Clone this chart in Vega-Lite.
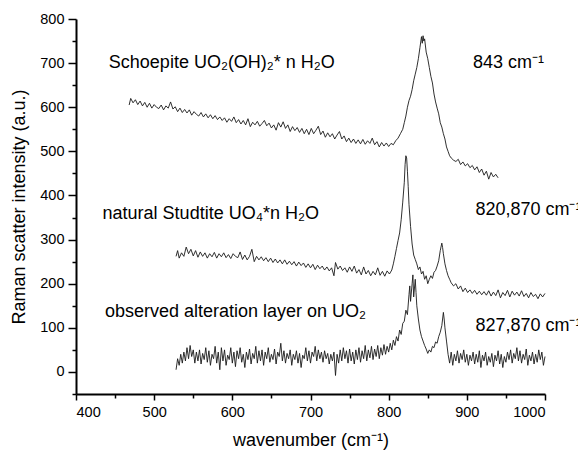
{
  "$schema": "https://vega.github.io/schema/vega-lite/v6.json",
  "width": 469,
  "height": 375,
  "autosize": "none",
  "padding": {"left": 76, "top": 19, "right": 33, "bottom": 62},
  "background": "white",
  "config": {
    "view": {"stroke": null},
    "font": "Liberation Sans",
    "axis": {
      "domainColor": "black", "domainWidth": 2, "tickColor": "black", "tickWidth": 1.5,
      "labelColor": "black", "labelFont": "Liberation Sans", "labelFontSize": 14.5,
      "titleColor": "black", "titleFont": "Liberation Sans", "titleFontSize": 18, "titleFontWeight": "normal",
      "grid": false, "labelOverlap": false, "format": "d"
    }
  },
  "resolve": {"axis": {"x": "independent", "y": "independent"}},
  "datasets": {
    "spec": [
      {"s":"A","x":468,"y":605},{"s":"A","x":470,"y":620},{"s":"A","x":473,"y":610},{"s":"A","x":476,"y":617},{"s":"A","x":479,"y":606},{"s":"A","x":482,"y":614},{"s":"A","x":485,"y":603},{"s":"A","x":488,"y":611},{"s":"A","x":491,"y":600},{"s":"A","x":494,"y":609},{"s":"A","x":497,"y":598},{"s":"A","x":500,"y":606},{"s":"A","x":503,"y":600},{"s":"A","x":506,"y":597},{"s":"A","x":509,"y":605},{"s":"A","x":512,"y":594},{"s":"A","x":515,"y":603},{"s":"A","x":518,"y":598},{"s":"A","x":521,"y":612},{"s":"A","x":524,"y":596},{"s":"A","x":527,"y":601},{"s":"A","x":530,"y":590},{"s":"A","x":533,"y":598},{"s":"A","x":536,"y":588},{"s":"A","x":539,"y":595},{"s":"A","x":542,"y":587},{"s":"A","x":545,"y":594},{"s":"A","x":548,"y":582},{"s":"A","x":551,"y":590},{"s":"A","x":554,"y":584},{"s":"A","x":557,"y":580},{"s":"A","x":560,"y":588},{"s":"A","x":563,"y":578},{"s":"A","x":566,"y":585},{"s":"A","x":569,"y":576},{"s":"A","x":572,"y":583},{"s":"A","x":575,"y":574},{"s":"A","x":578,"y":581},{"s":"A","x":581,"y":572},{"s":"A","x":584,"y":578},{"s":"A","x":587,"y":570},{"s":"A","x":590,"y":576},{"s":"A","x":593,"y":566},{"s":"A","x":596,"y":574},{"s":"A","x":599,"y":568},{"s":"A","x":602,"y":578},{"s":"A","x":605,"y":565},{"s":"A","x":608,"y":572},{"s":"A","x":611,"y":562},{"s":"A","x":614,"y":570},{"s":"A","x":617,"y":560},{"s":"A","x":620,"y":574},{"s":"A","x":623,"y":556},{"s":"A","x":626,"y":566},{"s":"A","x":629,"y":560},{"s":"A","x":632,"y":568},{"s":"A","x":635,"y":557},{"s":"A","x":638,"y":563},{"s":"A","x":641,"y":570},{"s":"A","x":644,"y":558},{"s":"A","x":647,"y":564},{"s":"A","x":650,"y":553},{"s":"A","x":653,"y":560},{"s":"A","x":656,"y":548},{"s":"A","x":659,"y":565},{"s":"A","x":662,"y":555},{"s":"A","x":665,"y":567},{"s":"A","x":668,"y":552},{"s":"A","x":671,"y":560},{"s":"A","x":674,"y":545},{"s":"A","x":677,"y":556},{"s":"A","x":680,"y":547},{"s":"A","x":683,"y":554},{"s":"A","x":686,"y":543},{"s":"A","x":689,"y":552},{"s":"A","x":692,"y":540},{"s":"A","x":695,"y":550},{"s":"A","x":698,"y":538},{"s":"A","x":701,"y":552},{"s":"A","x":704,"y":540},{"s":"A","x":707,"y":548},{"s":"A","x":710,"y":557},{"s":"A","x":713,"y":538},{"s":"A","x":716,"y":546},{"s":"A","x":719,"y":532},{"s":"A","x":722,"y":542},{"s":"A","x":725,"y":533},{"s":"A","x":728,"y":540},{"s":"A","x":731,"y":528},{"s":"A","x":734,"y":537},{"s":"A","x":737,"y":545},{"s":"A","x":740,"y":528},{"s":"A","x":743,"y":535},{"s":"A","x":746,"y":522},{"s":"A","x":749,"y":530},{"s":"A","x":752,"y":520},{"s":"A","x":755,"y":528},{"s":"A","x":758,"y":518},{"s":"A","x":761,"y":526},{"s":"A","x":764,"y":517},{"s":"A","x":767,"y":527},{"s":"A","x":770,"y":516},{"s":"A","x":773,"y":524},{"s":"A","x":776,"y":518},{"s":"A","x":779,"y":530},{"s":"A","x":782,"y":515},{"s":"A","x":785,"y":522},{"s":"A","x":788,"y":510},{"s":"A","x":791,"y":520},{"s":"A","x":794,"y":512},{"s":"A","x":797,"y":519},{"s":"A","x":800,"y":511},{"s":"A","x":803,"y":518},{"s":"A","x":806,"y":515},{"s":"A","x":809,"y":524},{"s":"A","x":812,"y":530},{"s":"A","x":815,"y":540},{"s":"A","x":818,"y":550},{"s":"A","x":820,"y":565},{"s":"A","x":822,"y":580},{"s":"A","x":824,"y":600},{"s":"A","x":826,"y":615},{"s":"A","x":828,"y":625},{"s":"A","x":830,"y":640},{"s":"A","x":832,"y":660},{"s":"A","x":834,"y":675},{"s":"A","x":836,"y":690},{"s":"A","x":838,"y":710},{"s":"A","x":840,"y":735},{"s":"A","x":842,"y":760},{"s":"A","x":843,"y":745},{"s":"A","x":844,"y":762},{"s":"A","x":845,"y":750},{"s":"A","x":846,"y":755},{"s":"A","x":848,"y":725},{"s":"A","x":850,"y":710},{"s":"A","x":852,"y":690},{"s":"A","x":854,"y":670},{"s":"A","x":856,"y":655},{"s":"A","x":858,"y":630},{"s":"A","x":860,"y":612},{"s":"A","x":862,"y":598},{"s":"A","x":864,"y":585},{"s":"A","x":866,"y":565},{"s":"A","x":868,"y":555},{"s":"A","x":870,"y":540},{"s":"A","x":872,"y":528},{"s":"A","x":874,"y":510},{"s":"A","x":876,"y":500},{"s":"A","x":878,"y":490},{"s":"A","x":880,"y":485},{"s":"A","x":883,"y":480},{"s":"A","x":886,"y":477},{"s":"A","x":889,"y":482},{"s":"A","x":892,"y":470},{"s":"A","x":895,"y":476},{"s":"A","x":898,"y":467},{"s":"A","x":901,"y":472},{"s":"A","x":904,"y":463},{"s":"A","x":907,"y":468},{"s":"A","x":910,"y":458},{"s":"A","x":913,"y":465},{"s":"A","x":916,"y":452},{"s":"A","x":919,"y":460},{"s":"A","x":922,"y":446},{"s":"A","x":925,"y":455},{"s":"A","x":928,"y":437},{"s":"A","x":931,"y":452},{"s":"A","x":934,"y":442},{"s":"A","x":937,"y":448},{"s":"A","x":940,"y":440},
      {"s":"B","x":528,"y":262},{"s":"B","x":530,"y":275},{"s":"B","x":532,"y":258},{"s":"B","x":535,"y":270},{"s":"B","x":538,"y":262},{"s":"B","x":541,"y":283},{"s":"B","x":544,"y":268},{"s":"B","x":547,"y":278},{"s":"B","x":550,"y":263},{"s":"B","x":553,"y":275},{"s":"B","x":556,"y":260},{"s":"B","x":559,"y":272},{"s":"B","x":562,"y":262},{"s":"B","x":565,"y":270},{"s":"B","x":568,"y":258},{"s":"B","x":571,"y":268},{"s":"B","x":574,"y":261},{"s":"B","x":577,"y":271},{"s":"B","x":580,"y":258},{"s":"B","x":583,"y":268},{"s":"B","x":586,"y":261},{"s":"B","x":589,"y":270},{"s":"B","x":592,"y":259},{"s":"B","x":595,"y":266},{"s":"B","x":598,"y":257},{"s":"B","x":601,"y":268},{"s":"B","x":604,"y":262},{"s":"B","x":607,"y":259},{"s":"B","x":610,"y":272},{"s":"B","x":613,"y":255},{"s":"B","x":616,"y":265},{"s":"B","x":619,"y":254},{"s":"B","x":622,"y":262},{"s":"B","x":625,"y":278},{"s":"B","x":628,"y":250},{"s":"B","x":631,"y":262},{"s":"B","x":634,"y":254},{"s":"B","x":637,"y":261},{"s":"B","x":640,"y":252},{"s":"B","x":643,"y":259},{"s":"B","x":646,"y":250},{"s":"B","x":649,"y":258},{"s":"B","x":652,"y":248},{"s":"B","x":655,"y":256},{"s":"B","x":658,"y":247},{"s":"B","x":661,"y":254},{"s":"B","x":664,"y":245},{"s":"B","x":667,"y":254},{"s":"B","x":670,"y":244},{"s":"B","x":673,"y":251},{"s":"B","x":676,"y":243},{"s":"B","x":679,"y":250},{"s":"B","x":682,"y":240},{"s":"B","x":685,"y":249},{"s":"B","x":688,"y":241},{"s":"B","x":691,"y":247},{"s":"B","x":694,"y":237},{"s":"B","x":697,"y":245},{"s":"B","x":700,"y":236},{"s":"B","x":703,"y":244},{"s":"B","x":706,"y":232},{"s":"B","x":709,"y":242},{"s":"B","x":712,"y":234},{"s":"B","x":715,"y":240},{"s":"B","x":718,"y":231},{"s":"B","x":721,"y":238},{"s":"B","x":724,"y":229},{"s":"B","x":727,"y":236},{"s":"B","x":730,"y":218},{"s":"B","x":732,"y":248},{"s":"B","x":735,"y":233},{"s":"B","x":738,"y":240},{"s":"B","x":741,"y":230},{"s":"B","x":744,"y":236},{"s":"B","x":747,"y":226},{"s":"B","x":750,"y":238},{"s":"B","x":753,"y":228},{"s":"B","x":756,"y":240},{"s":"B","x":759,"y":224},{"s":"B","x":762,"y":232},{"s":"B","x":765,"y":220},{"s":"B","x":768,"y":238},{"s":"B","x":771,"y":222},{"s":"B","x":774,"y":230},{"s":"B","x":777,"y":218},{"s":"B","x":780,"y":228},{"s":"B","x":783,"y":220},{"s":"B","x":786,"y":236},{"s":"B","x":789,"y":219},{"s":"B","x":792,"y":228},{"s":"B","x":795,"y":217},{"s":"B","x":798,"y":229},{"s":"B","x":801,"y":222},{"s":"B","x":804,"y":231},{"s":"B","x":806,"y":245},{"s":"B","x":808,"y":262},{"s":"B","x":810,"y":280},{"s":"B","x":812,"y":298},{"s":"B","x":814,"y":315},{"s":"B","x":816,"y":345},{"s":"B","x":818,"y":385},{"s":"B","x":820,"y":430},{"s":"B","x":821,"y":470},{"s":"B","x":822,"y":490},{"s":"B","x":823,"y":485},{"s":"B","x":824,"y":455},{"s":"B","x":825,"y":420},{"s":"B","x":826,"y":380},{"s":"B","x":828,"y":330},{"s":"B","x":830,"y":290},{"s":"B","x":832,"y":265},{"s":"B","x":834,"y":255},{"s":"B","x":836,"y":245},{"s":"B","x":838,"y":232},{"s":"B","x":840,"y":238},{"s":"B","x":842,"y":222},{"s":"B","x":844,"y":228},{"s":"B","x":846,"y":210},{"s":"B","x":848,"y":218},{"s":"B","x":850,"y":200},{"s":"B","x":852,"y":210},{"s":"B","x":854,"y":218},{"s":"B","x":856,"y":212},{"s":"B","x":858,"y":226},{"s":"B","x":860,"y":230},{"s":"B","x":862,"y":240},{"s":"B","x":864,"y":252},{"s":"B","x":866,"y":275},{"s":"B","x":868,"y":292},{"s":"B","x":869,"y":282},{"s":"B","x":870,"y":268},{"s":"B","x":872,"y":245},{"s":"B","x":874,"y":230},{"s":"B","x":876,"y":218},{"s":"B","x":878,"y":210},{"s":"B","x":880,"y":202},{"s":"B","x":883,"y":195},{"s":"B","x":886,"y":200},{"s":"B","x":889,"y":188},{"s":"B","x":892,"y":195},{"s":"B","x":895,"y":182},{"s":"B","x":898,"y":190},{"s":"B","x":901,"y":180},{"s":"B","x":904,"y":186},{"s":"B","x":907,"y":178},{"s":"B","x":910,"y":185},{"s":"B","x":913,"y":176},{"s":"B","x":916,"y":183},{"s":"B","x":919,"y":175},{"s":"B","x":922,"y":182},{"s":"B","x":925,"y":174},{"s":"B","x":928,"y":184},{"s":"B","x":931,"y":172},{"s":"B","x":934,"y":181},{"s":"B","x":937,"y":173},{"s":"B","x":940,"y":186},{"s":"B","x":943,"y":168},{"s":"B","x":946,"y":180},{"s":"B","x":949,"y":173},{"s":"B","x":952,"y":185},{"s":"B","x":955,"y":170},{"s":"B","x":958,"y":183},{"s":"B","x":961,"y":174},{"s":"B","x":964,"y":181},{"s":"B","x":967,"y":172},{"s":"B","x":970,"y":184},{"s":"B","x":973,"y":171},{"s":"B","x":976,"y":178},{"s":"B","x":979,"y":168},{"s":"B","x":982,"y":180},{"s":"B","x":985,"y":171},{"s":"B","x":988,"y":176},{"s":"B","x":991,"y":166},{"s":"B","x":994,"y":177},{"s":"B","x":997,"y":170},{"s":"B","x":1000,"y":178},
      {"s":"C","x":528,"y":5},{"s":"C","x":530,"y":30},{"s":"C","x":532,"y":15},{"s":"C","x":534,"y":40},{"s":"C","x":536,"y":20},{"s":"C","x":538,"y":45},{"s":"C","x":540,"y":25},{"s":"C","x":542,"y":55},{"s":"C","x":544,"y":30},{"s":"C","x":546,"y":60},{"s":"C","x":548,"y":35},{"s":"C","x":550,"y":50},{"s":"C","x":552,"y":20},{"s":"C","x":554,"y":45},{"s":"C","x":556,"y":25},{"s":"C","x":558,"y":50},{"s":"C","x":560,"y":18},{"s":"C","x":562,"y":42},{"s":"C","x":564,"y":28},{"s":"C","x":566,"y":55},{"s":"C","x":568,"y":22},{"s":"C","x":570,"y":48},{"s":"C","x":572,"y":15},{"s":"C","x":574,"y":40},{"s":"C","x":576,"y":30},{"s":"C","x":578,"y":58},{"s":"C","x":580,"y":20},{"s":"C","x":582,"y":45},{"s":"C","x":584,"y":5},{"s":"C","x":586,"y":55},{"s":"C","x":588,"y":25},{"s":"C","x":590,"y":50},{"s":"C","x":592,"y":15},{"s":"C","x":594,"y":38},{"s":"C","x":596,"y":28},{"s":"C","x":598,"y":55},{"s":"C","x":600,"y":20},{"s":"C","x":602,"y":45},{"s":"C","x":604,"y":12},{"s":"C","x":606,"y":48},{"s":"C","x":608,"y":30},{"s":"C","x":610,"y":55},{"s":"C","x":612,"y":22},{"s":"C","x":614,"y":40},{"s":"C","x":616,"y":10},{"s":"C","x":618,"y":45},{"s":"C","x":620,"y":28},{"s":"C","x":622,"y":52},{"s":"C","x":624,"y":18},{"s":"C","x":626,"y":42},{"s":"C","x":628,"y":30},{"s":"C","x":630,"y":58},{"s":"C","x":632,"y":20},{"s":"C","x":634,"y":48},{"s":"C","x":636,"y":25},{"s":"C","x":638,"y":50},{"s":"C","x":640,"y":15},{"s":"C","x":642,"y":45},{"s":"C","x":644,"y":30},{"s":"C","x":646,"y":55},{"s":"C","x":648,"y":22},{"s":"C","x":650,"y":40},{"s":"C","x":652,"y":28},{"s":"C","x":654,"y":52},{"s":"C","x":656,"y":18},{"s":"C","x":658,"y":45},{"s":"C","x":660,"y":35},{"s":"C","x":662,"y":65},{"s":"C","x":664,"y":25},{"s":"C","x":666,"y":48},{"s":"C","x":668,"y":20},{"s":"C","x":670,"y":42},{"s":"C","x":672,"y":30},{"s":"C","x":674,"y":50},{"s":"C","x":676,"y":15},{"s":"C","x":678,"y":40},{"s":"C","x":680,"y":28},{"s":"C","x":682,"y":48},{"s":"C","x":684,"y":20},{"s":"C","x":686,"y":42},{"s":"C","x":688,"y":10},{"s":"C","x":690,"y":38},{"s":"C","x":692,"y":30},{"s":"C","x":694,"y":55},{"s":"C","x":696,"y":25},{"s":"C","x":698,"y":48},{"s":"C","x":700,"y":20},{"s":"C","x":702,"y":45},{"s":"C","x":704,"y":35},{"s":"C","x":706,"y":58},{"s":"C","x":708,"y":25},{"s":"C","x":710,"y":50},{"s":"C","x":712,"y":30},{"s":"C","x":714,"y":45},{"s":"C","x":716,"y":22},{"s":"C","x":718,"y":48},{"s":"C","x":720,"y":30},{"s":"C","x":722,"y":42},{"s":"C","x":724,"y":18},{"s":"C","x":726,"y":40},{"s":"C","x":728,"y":25},{"s":"C","x":730,"y":45},{"s":"C","x":732,"y":-8},{"s":"C","x":734,"y":40},{"s":"C","x":736,"y":20},{"s":"C","x":738,"y":50},{"s":"C","x":740,"y":25},{"s":"C","x":742,"y":55},{"s":"C","x":744,"y":30},{"s":"C","x":746,"y":48},{"s":"C","x":748,"y":20},{"s":"C","x":750,"y":52},{"s":"C","x":752,"y":25},{"s":"C","x":754,"y":45},{"s":"C","x":756,"y":18},{"s":"C","x":758,"y":50},{"s":"C","x":760,"y":28},{"s":"C","x":762,"y":55},{"s":"C","x":764,"y":22},{"s":"C","x":766,"y":48},{"s":"C","x":768,"y":30},{"s":"C","x":770,"y":60},{"s":"C","x":772,"y":25},{"s":"C","x":774,"y":50},{"s":"C","x":776,"y":32},{"s":"C","x":778,"y":58},{"s":"C","x":780,"y":28},{"s":"C","x":782,"y":52},{"s":"C","x":784,"y":35},{"s":"C","x":786,"y":60},{"s":"C","x":788,"y":30},{"s":"C","x":790,"y":55},{"s":"C","x":792,"y":38},{"s":"C","x":794,"y":62},{"s":"C","x":796,"y":40},{"s":"C","x":798,"y":58},{"s":"C","x":800,"y":45},{"s":"C","x":802,"y":65},{"s":"C","x":804,"y":50},{"s":"C","x":806,"y":72},{"s":"C","x":808,"y":60},{"s":"C","x":810,"y":80},{"s":"C","x":812,"y":70},{"s":"C","x":814,"y":95},{"s":"C","x":816,"y":85},{"s":"C","x":818,"y":110},{"s":"C","x":820,"y":115},{"s":"C","x":822,"y":140},{"s":"C","x":824,"y":130},{"s":"C","x":826,"y":175},{"s":"C","x":827,"y":195},{"s":"C","x":828,"y":160},{"s":"C","x":830,"y":200},{"s":"C","x":831,"y":220},{"s":"C","x":832,"y":170},{"s":"C","x":834,"y":210},{"s":"C","x":835,"y":180},{"s":"C","x":836,"y":150},{"s":"C","x":838,"y":120},{"s":"C","x":840,"y":95},{"s":"C","x":842,"y":80},{"s":"C","x":844,"y":70},{"s":"C","x":846,"y":60},{"s":"C","x":848,"y":52},{"s":"C","x":850,"y":42},{"s":"C","x":852,"y":50},{"s":"C","x":854,"y":45},{"s":"C","x":856,"y":58},{"s":"C","x":858,"y":55},{"s":"C","x":860,"y":68},{"s":"C","x":862,"y":65},{"s":"C","x":864,"y":80},{"s":"C","x":866,"y":90},{"s":"C","x":868,"y":105},{"s":"C","x":870,"y":135},{"s":"C","x":871,"y":120},{"s":"C","x":872,"y":100},{"s":"C","x":874,"y":70},{"s":"C","x":876,"y":40},{"s":"C","x":878,"y":20},{"s":"C","x":880,"y":45},{"s":"C","x":882,"y":15},{"s":"C","x":884,"y":40},{"s":"C","x":886,"y":25},{"s":"C","x":888,"y":48},{"s":"C","x":890,"y":20},{"s":"C","x":892,"y":42},{"s":"C","x":894,"y":28},{"s":"C","x":896,"y":50},{"s":"C","x":898,"y":22},{"s":"C","x":900,"y":40},{"s":"C","x":902,"y":15},{"s":"C","x":904,"y":38},{"s":"C","x":906,"y":25},{"s":"C","x":908,"y":45},{"s":"C","x":910,"y":18},{"s":"C","x":912,"y":40},{"s":"C","x":914,"y":22},{"s":"C","x":916,"y":48},{"s":"C","x":918,"y":10},{"s":"C","x":920,"y":38},{"s":"C","x":922,"y":25},{"s":"C","x":924,"y":45},{"s":"C","x":926,"y":15},{"s":"C","x":928,"y":35},{"s":"C","x":930,"y":22},{"s":"C","x":932,"y":42},{"s":"C","x":934,"y":12},{"s":"C","x":936,"y":38},{"s":"C","x":938,"y":25},{"s":"C","x":940,"y":48},{"s":"C","x":942,"y":18},{"s":"C","x":944,"y":40},{"s":"C","x":946,"y":10},{"s":"C","x":948,"y":35},{"s":"C","x":950,"y":22},{"s":"C","x":952,"y":45},{"s":"C","x":954,"y":28},{"s":"C","x":956,"y":50},{"s":"C","x":958,"y":20},{"s":"C","x":960,"y":42},{"s":"C","x":962,"y":30},{"s":"C","x":964,"y":55},{"s":"C","x":966,"y":25},{"s":"C","x":968,"y":48},{"s":"C","x":970,"y":20},{"s":"C","x":972,"y":40},{"s":"C","x":974,"y":28},{"s":"C","x":976,"y":52},{"s":"C","x":978,"y":15},{"s":"C","x":980,"y":38},{"s":"C","x":982,"y":25},{"s":"C","x":984,"y":45},{"s":"C","x":986,"y":18},{"s":"C","x":988,"y":40},{"s":"C","x":990,"y":22},{"s":"C","x":992,"y":50},{"s":"C","x":994,"y":28},{"s":"C","x":996,"y":45},{"s":"C","x":998,"y":15},{"s":"C","x":1000,"y":35}
    ],
    "labels": [
      {"t":"Schoepite UO₂(OH)₂* n H₂O","x":442,"y":688},
      {"t":"843 cm⁻¹","x":908,"y":688},
      {"t":"natural Studtite UO₄*n H₂O","x":434,"y":347},
      {"t":"820,870 cm⁻¹","x":911,"y":356},
      {"t":"observed alteration layer on UO₂","x":437,"y":125},
      {"t":"827,870 cm⁻¹","x":911,"y":93}
    ]
  },
  "layer": [
    {
      "data": {"name": "spec"},
      "mark": {"type": "line", "color": "#1a1a1a", "strokeWidth": 0.9},
      "encoding": {
        "x": {"field": "x", "type": "quantitative", "scale": {"domain": [400, 1000], "nice": false},
          "axis": {"orient": "bottom", "title": "wavenumber (cm⁻¹)", "values": [400,500,600,700,800,900,1000],
            "tickSize": 6, "labelPadding": 5, "titlePadding": 13}},
        "y": {"field": "y", "type": "quantitative", "scale": {"domain": [-50, 800], "nice": false},
          "axis": {"orient": "left", "title": "Raman scatter intensity (a.u.)", "values": [0,100,200,300,400,500,600,700,800],
            "tickSize": 8, "labelPadding": 4, "titlePadding": 11}},
        "detail": {"field": "s"}
      }
    },
    {
      "data": {"name": "labels"},
      "mark": {"type": "text", "align": "left", "baseline": "alphabetic", "fontSize": 18, "font": "Liberation Sans", "color": "black"},
      "encoding": {
        "x": {"field": "x", "type": "quantitative",
          "axis": {"orient": "bottom", "title": null, "values": [450,550,650,750,850,950], "labels": false, "domain": false, "tickSize": 4}},
        "y": {"field": "y", "type": "quantitative",
          "axis": {"orient": "left", "title": null, "values": [-50,50,150,250,350,450,550,650,750], "labels": false, "domain": false, "tickSize": 4}},
        "text": {"field": "t"}
      }
    }
  ]
}
